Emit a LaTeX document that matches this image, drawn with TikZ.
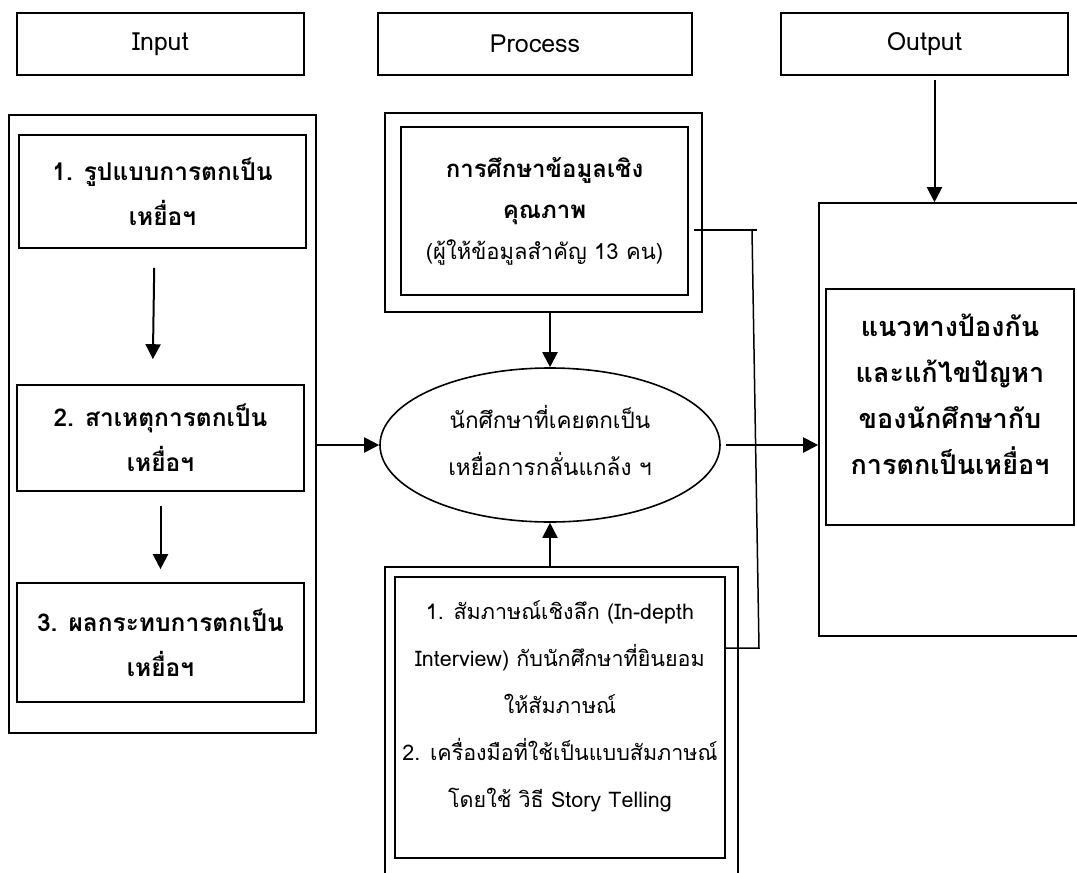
\documentclass[tikz,border=0pt]{standalone}
\usepackage{fontspec}
\setmainfont[Script=Thai]{Loma}
\usetikzlibrary{arrows.meta, shapes.geometric, positioning}

\begin{document}
\begin{tikzpicture}[x=1pt, y=-1pt,
    box/.style={draw, line width=1.6pt, align=center, inner sep=0pt},
    hdr/.style={box, minimum width=287pt, minimum height=62pt, font=\fontsize{25}{30}\selectfont},
    stage/.style={box, minimum width=287pt, font=\fontsize{24.5}{45}\selectfont\bfseries},
    txt/.style={align=center, inner sep=0pt},
    arr/.style={-{Triangle[length=15pt,width=15pt]}, line width=2pt}]

    \useasboundingbox (0,0) rectangle (1077,873);

    % Draw the headers
    \node[hdr] (inhdr) at (160.5,44) {Input};
    \node[hdr, minimum width=314pt] (prochdr) at (535,44) {Process};
    \node[hdr] (outhdr) at (924.5,44) {Output};

    % Draw the input column
    \node[box, minimum width=307pt, minimum height=618pt] (inbox) at (162.5,424) {};
    \node[stage, minimum height=113pt] (s1) at (162.5,191.5) {1. รูปแบบการตกเป็น\\เหยื่อฯ};
    \node[stage, minimum height=106pt] (s2) at (160.5,438) {2. สาเหตุการตกเป็น\\เหยื่อฯ};
    \node[stage, minimum height=119pt] (s3) at (160.5,642.5) {3. ผลกระทบการตกเป็น\\เหยื่อฯ};

    % Draw the process column
    \node[box, minimum width=317pt, minimum height=199pt] (qualout) at (543.5,212.5) {};
    \node[box, minimum width=287pt, minimum height=168pt, font=\fontsize{22}{41}\selectfont] (qual) at (544.5,211)
        {{\fontsize{24}{41}\selectfont\bfseries การศึกษาข้อมูลเชิง}\\{\fontsize{24}{41}\selectfont\bfseries คุณภาพ}\\(ผู้ให้ข้อมูลสำคัญ 13 คน)};
    \node[draw, ellipse, line width=1.6pt, minimum width=340pt, minimum height=154pt] (victim) at (550,445) {};
    \node[txt, font=\fontsize{22.5}{47}\selectfont] (victimtxt) at ([yshift=5pt]victim.center)
        {นักศึกษาที่เคยตกเป็น\\เหยื่อการกลั่นแกล้ง ฯ};
    \node[box, minimum width=353pt, minimum height=323pt] (methodout) at (561.5,728.5) {};
    \node[box, minimum width=330pt, minimum height=281pt] (method) at (560,717.5) {};
    \node[txt, font=\fontsize{21.5}{47}\selectfont] (methodtxt) at ([yshift=11pt]method.center)
        {1. สัมภาษณ์เชิงลึก (In-depth\\Interview) กับนักศึกษาที่ยินยอม\\ให้สัมภาษณ์\\2. เครื่องมือที่ใช้เป็นแบบสัมภาษณ์\\โดยใช้ วิธี Story Telling};

    % Draw the output column
    \node[box, minimum width=271pt, minimum height=433pt] (outbox) at (954.5,419.5) {};
    \node[box, minimum width=248pt, minimum height=236pt] (result) at (950,407) {};
    \node[txt, font=\fontsize{27}{46}\selectfont\bfseries] (resulttxt) at ([yshift=13pt]result.center)
        {แนวทางป้องกัน\\และแก้ไขปัญหา\\ของนักศึกษากับ\\การตกเป็นเหยื่อฯ};

    % Draw the arrows
    \draw[arr, shorten <=19pt, shorten >=25pt] ([xshift=-8pt]s1.south) -- ([xshift=-8pt]s2.north);
    \draw[arr, shorten <=14pt, shorten >=13pt] (s2.south) -- (s3.north);
    \draw[arr] (inbox.east |- victim.west) -- (victim.west);
    \draw[arr] (qualout.south -| victim.north) -- (victim.north);
    \draw[arr] (methodout.north -| victim.south) -- (victim.south);
    \draw[arr, shorten <=5pt] (victim.east) -- (outbox.west |- victim.east);
    \draw[arr, shorten <=4pt] ([xshift=10pt]outhdr.south) -- ([xshift=10pt]outhdr.south |- outbox.north);

    % Draw the link between the two process boxes
    \coordinate (jA) at (752,230);
    \coordinate (jB) at (759,648);
    \draw[line width=1.5pt] ([xshift=5pt]qual.east |- jA) -- ([xshift=5pt]jA);
    \draw[line width=1.5pt] (jA) -- (jB) -- (method.east |- jB);
\end{tikzpicture}
\end{document}
